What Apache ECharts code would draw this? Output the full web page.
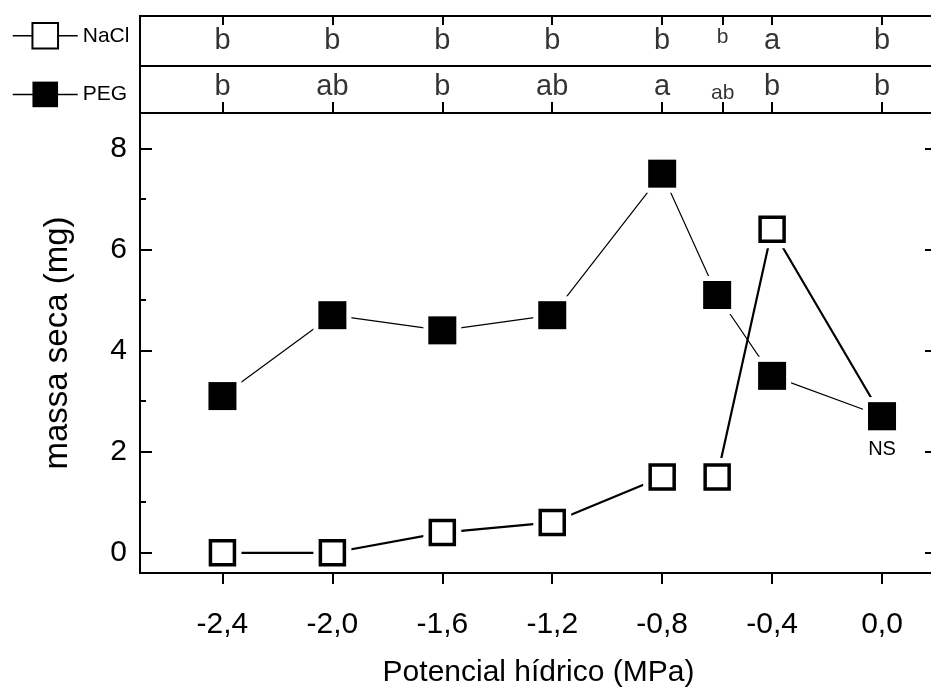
<!DOCTYPE html>
<html>
<head>
<meta charset="utf-8">
<script src="https://cdn.jsdelivr.net/npm/echarts@6/dist/echarts.min.js"></script>
<style>
  html, body { margin: 0; padding: 0; background: #fff; }
  #chart { width: 931px; height: 693px; }
</style>
</head>
<body>
<div id="chart"></div>
<script>
// dados
const potencial = [-2.4, -2.0, -1.6, -1.2, -0.8, -0.6, -0.4, 0.0];
const nacl = [0, 0, 0.4, 0.6, 1.5, 1.5, 6.4, 2.7];
const peg = [3.1, 4.7, 4.4, 4.7, 7.5, 5.1, 3.5, 2.7];
const naclLetras = ['b', 'b', 'b', 'b', 'b', 'b', 'a', 'b'];
const pegLetras = ['b', 'ab', 'b', 'ab', 'a', 'ab', 'b', 'b'];
const letraPos = [-2.4, -2.0, -1.6, -1.2, -0.8, -0.58, -0.4, 0.0];
const xTicks = [-2.4, -2.0, -1.6, -1.2, -0.8, -0.4, 0.0];
const yTicks = [0, 2, 4, 6, 8];
const yMinor = [1, 3, 5, 7];

const FONT = '"Liberation Sans", Arial, sans-serif';
const smallIdx = 5; // letra menor em -0,6

const chart = echarts.init(document.getElementById('chart'));

const pts = (ys, a, b) => potencial.slice(a, b).map((x, i) => [x, ys[a + i]]);
const naclMarker = { color: '#fff', borderColor: '#000', borderWidth: 3.5, opacity: 1 };
const noLine = { show: false, onZero: false };
const tickStyle = { color: '#000', width: 2 };

function letras(arr, yNormal, ySmall) {
  return arr.map((l, i) => ({
    value: [letraPos[i], i === smallIdx ? ySmall : yNormal],
    name: l,
    label: { fontSize: i === smallIdx ? 21 : 29 }
  }));
}

const pegData = potencial.map((x, i) => {
  const d = { value: [x, peg[i]] };
  if (i === potencial.length - 1) {
    d.label = { show: true, formatter: 'NS', position: 'bottom', distance: 9, fontSize: 20, color: '#000', fontFamily: FONT };
  }
  return d;
});

function yAx(ticks, pos, len, extra) {
  return Object.assign({
    gridIndex: 0, type: 'value', min: -0.4, max: 8.7, position: pos,
    axisLine: noLine,
    axisTick: { customValues: ticks, inside: true, length: len, lineStyle: tickStyle },
    axisLabel: { show: false },
    splitLine: { show: false }
  }, extra || {});
}

const option = {
  animation: false,
  textStyle: { fontFamily: FONT, color: '#000' },
  legend: {
    data: ['NaCl', 'PEG'],
    orient: 'vertical',
    left: 7,
    top: 17,
    itemWidth: 65,
    itemHeight: 32,
    itemGap: 32,
    selectedMode: false,
    lineStyle: { width: 1.5 },
    textStyle: { fontSize: 21, color: '#000', fontFamily: FONT }
  },
  grid: [
    { left: 140, top: 113, width: 797, height: 460, show: true, borderColor: '#000', borderWidth: 2, outerBoundsMode: 'none' },
    { left: 140, top: 16, width: 797, height: 50, show: true, borderColor: '#000', borderWidth: 2, outerBoundsMode: 'none' },
    { left: 140, top: 66, width: 797, height: 47, show: true, borderColor: '#000', borderWidth: 2, outerBoundsMode: 'none' }
  ],
  xAxis: [
    {
      gridIndex: 0, type: 'value', min: -2.7, max: 0.2,
      axisLine: noLine,
      axisTick: { customValues: xTicks, length: 11, lineStyle: tickStyle },
      axisLabel: {
        customValues: xTicks, fontSize: 30, color: '#000', margin: 37,
        formatter: v => v.toFixed(1).replace('.', ',')
      },
      splitLine: { show: false },
      name: 'Potencial hídrico (MPa)', nameLocation: 'middle', nameGap: 85,
      nameTextStyle: { fontSize: 30, color: '#000' }
    },
    {
      gridIndex: 1, type: 'value', min: -2.7, max: 0.2, position: 'top',
      axisLine: noLine,
      axisTick: { customValues: letraPos, inside: true, length: 9, lineStyle: tickStyle },
      axisLabel: { show: false },
      splitLine: { show: false }
    },
    {
      gridIndex: 2, type: 'value', min: -2.7, max: 0.2, position: 'bottom',
      axisLine: noLine,
      axisTick: { customValues: letraPos, inside: true, length: 11, lineStyle: tickStyle },
      axisLabel: { show: false },
      splitLine: { show: false }
    }
  ],
  yAxis: [
    yAx(yTicks, 'left', 12, {
      axisLabel: { customValues: yTicks, fontSize: 30, color: '#000', margin: 13 },
      name: 'massa seca (mg)', nameLocation: 'middle', nameRotate: 90, nameGap: 66,
      nameTextStyle: { fontSize: 33, color: '#000' }
    }),
    yAx(yMinor, 'left', 6),
    yAx(yTicks, 'right', 12),
    yAx(yMinor, 'right', 6),
    { gridIndex: 1, type: 'value', min: 0, max: 1, show: false },
    { gridIndex: 2, type: 'value', min: 0, max: 1, show: false }
  ],
  series: [
    {
      name: 'PEG', type: 'line', xAxisIndex: 0, yAxisIndex: 0, z: 2,
      data: pts(peg, 0, potencial.length),
      symbol: 'rect', symbolSize: 28,
      itemStyle: { color: '#000' },
      lineStyle: { color: '#000', width: 1.2 }
    },
    {
      name: 'NaCl', type: 'line', xAxisIndex: 0, yAxisIndex: 0, z: 2,
      data: pts(nacl, 0, 5),
      symbol: 'rect', symbolSize: 24,
      itemStyle: naclMarker,
      lineStyle: { color: '#000', width: 2.2 }
    },
    {
      name: 'NaCl', type: 'line', xAxisIndex: 0, yAxisIndex: 0, z: 2,
      data: pts(nacl, 5, potencial.length),
      symbol: 'rect', symbolSize: 24,
      itemStyle: naclMarker,
      lineStyle: { color: '#000', width: 2.2 }
    },
    // halo branco: recorta as linhas perto dos símbolos
    {
      type: 'scatter', xAxisIndex: 0, yAxisIndex: 0, z: 3, silent: true,
      data: pts(nacl, 0, potencial.length).concat(pts(peg, 0, potencial.length)),
      symbol: 'rect', symbolSize: 38,
      itemStyle: { color: '#fff', opacity: 1 }
    },
    {
      type: 'scatter', xAxisIndex: 0, yAxisIndex: 0, z: 4,
      data: pts(nacl, 0, potencial.length),
      symbol: 'rect', symbolSize: 24,
      itemStyle: naclMarker
    },
    {
      type: 'scatter', xAxisIndex: 0, yAxisIndex: 0, z: 5,
      data: pegData,
      symbol: 'rect', symbolSize: 28,
      itemStyle: { color: '#000', opacity: 1 }
    },
    {
      type: 'scatter', xAxisIndex: 1, yAxisIndex: 4,
      data: letras(naclLetras, 0.5, 0.58),
      symbolSize: 0,
      label: { show: true, position: 'inside', formatter: p => p.name, color: '#000', fontFamily: FONT }
    },
    {
      type: 'scatter', xAxisIndex: 2, yAxisIndex: 5,
      data: letras(pegLetras, 0.55, 0.43),
      symbolSize: 0,
      label: { show: true, position: 'inside', formatter: p => p.name, color: '#000', fontFamily: FONT }
    }
  ]
};

chart.setOption(option);
</script>
</body>
</html>
